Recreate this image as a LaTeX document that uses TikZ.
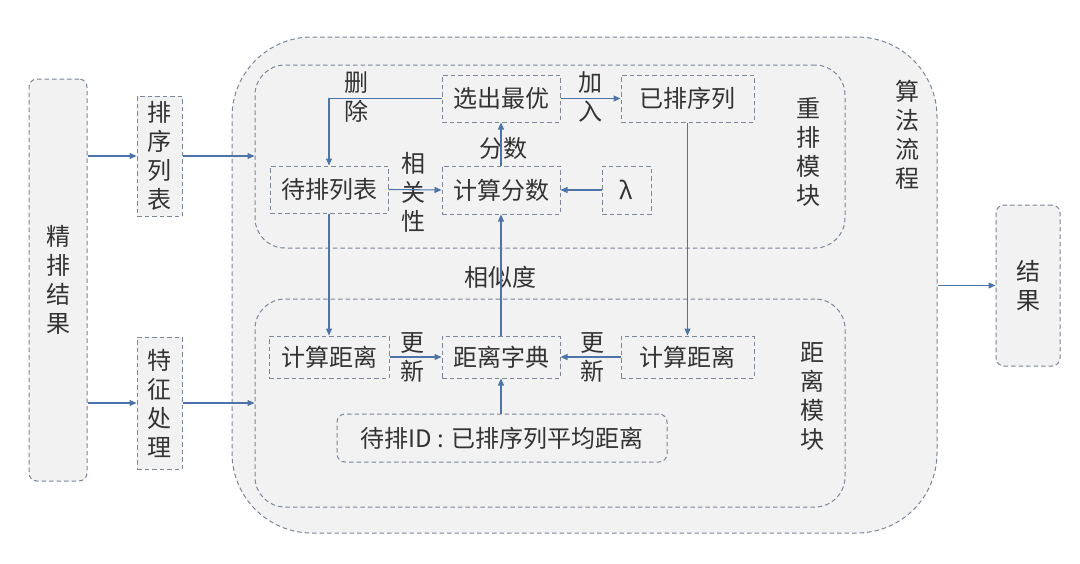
\documentclass[tikz,border=0pt]{standalone}
\usepackage{fontspec}
\setmainfont{Noto Sans CJK SC}
\usetikzlibrary{arrows.meta}
\definecolor{bordc}{HTML}{7C8696}
\definecolor{arrc}{HTML}{4E73A8}
\definecolor{fillc}{HTML}{F2F2F2}
\definecolor{txtc}{HTML}{333333}
\tikzset{
  dbox/.style={draw=bordc, line width=1pt, dash pattern=on 4.5pt off 3pt, fill=fillc,
    inner sep=0pt, text=txtc, font=\fontsize{24}{29}\selectfont, align=center},
  lbl/.style={inner sep=0pt, text=txtc, font=\fontsize{24}{29}\selectfont, align=center},
  arr/.style={draw=arrc, line width=1.1pt, -{Triangle[length=7pt,width=6pt]}},
}
\begin{document}
\begin{tikzpicture}[x=1pt,y=-1pt]
\useasboundingbox[fill=white] (0,0) rectangle (1080,563);
% containers
\node[dbox, rounded corners=80pt, minimum width=705pt, minimum height=496pt] (outer) at (584.5,285) {};
\node[dbox, rounded corners=30pt, minimum width=590pt, minimum height=183pt] (m1) at (550,156.5) {};
\node[dbox, rounded corners=30pt, minimum width=590pt, minimum height=208pt] (m2) at (550,403) {};
% left side
\node[dbox, rounded corners=8pt, minimum width=58pt, minimum height=402pt] (jp) at (58,280) {精\\排\\结\\果};
\node[dbox, minimum width=45pt, minimum height=120pt] (pl) at (159.5,156) {排\\序\\列\\表};
\node[dbox, minimum width=45pt, minimum height=132pt] (tz) at (159.5,403) {特\\征\\处\\理};
\node[dbox, rounded corners=8pt, minimum width=64pt, minimum height=161pt] (jg) at (1028,285.5) {结\\果};
% top module
\node[dbox, minimum width=118pt, minimum height=47pt] (xc) at (501,98.5) {选出最优};
\node[dbox, minimum width=133pt, minimum height=47pt] (yp) at (687.5,98.5) {已排序列};
\node[dbox, minimum width=118pt, minimum height=47pt] (dp) at (329,189.5) {待排列表};
\node[dbox, minimum width=118pt, minimum height=48pt] (js) at (501,190) {计算分数};
\node[dbox, minimum width=49pt, minimum height=48pt] (lam) at (626.5,190) {λ};
% bottom module
\node[dbox, minimum width=120pt, minimum height=42pt] (jl) at (329,357) {计算距离};
\node[dbox, minimum width=118pt, minimum height=42pt] (zd) at (501,357) {距离字典};
\node[dbox, minimum width=133pt, minimum height=42pt] (jr) at (687.5,357) {计算距离};
\node[dbox, rounded corners=8pt, minimum width=330pt, minimum height=48pt] (id) at (502,438) {待排ID\hspace{5pt}:\hspace{7pt}已排序列平均距离};
% module labels
\node[lbl] (t1) at (808,152) {重\\排\\模\\块};
\node[lbl] (t2) at (907,135) {算\\法\\流\\程};
\node[lbl] (t3) at (812,396) {距\\离\\模\\块};
% edge labels
\node[lbl] (l1) at (356,97) {删\\除};
\node[lbl] (l2) at (590,97) {加\\入};
\node[lbl] (l3) at (413,192) {相\\关\\性};
\node[lbl] (l4) at (503,148) {分数};
\node[lbl] (l5) at (500,277) {相似度};
\node[lbl] (l6) at (412,357) {更\\新};
\node[lbl] (l7) at (592,357) {更\\新};
% connectors
\draw[arr] (jp.east |- pl.west) -- (pl.west);
\draw[arr] (jp.east |- tz.west) -- (tz.west);
\draw[arr] (pl.east) -- (pl.east -| m1.west);
\draw[arr] (tz.east) -- (tz.east -| m2.west);
\draw[arr] (outer.east |- jg.west) -- (jg.west);
\draw[arr] (xc.west) -| (dp.north);
\draw[arr] (xc.east) -- (yp.west);
\draw[arr] (js.north) -- (xc.south);
\draw[arr] (dp.east) -- (js.west);
\draw[arr] (lam.west) -- (js.east);
\draw[arr] (zd.north) -- (js.south);
\draw[arr] (dp.south) -- (jl.north);
\draw[arr] (yp.south) -- (jr.north);
\draw[arr] (jl.east) -- (zd.west);
\draw[arr] (jr.west) -- (zd.east);
\draw[arr] (id.north -| zd.south) -- (zd.south);
\end{tikzpicture}
\end{document}
